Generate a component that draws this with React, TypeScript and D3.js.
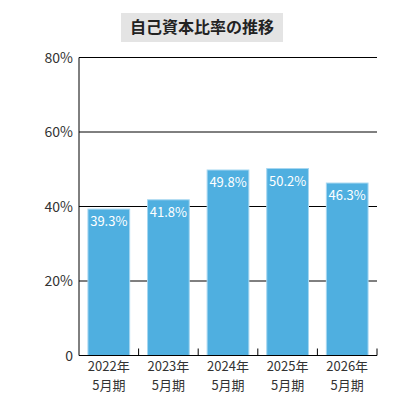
import { scaleBand, scaleLinear } from "d3";

const categories = ["2022年", "2023年", "2024年", "2025年", "2026年"];
const subLabels = ["5月期", "5月期", "5月期", "5月期", "5月期"];
const ratios = [39.3, 41.8, 49.8, 50.2, 46.3];
const yTicks = [0, 20, 40, 60, 80];

const width = 401;
const height = 400;
const left = 79;
const right = 377;
const top = 57.5;
const bottom = 355.5;
const font = "'Noto Sans CJK JP', 'Noto Sans', sans-serif";

export default function App(): React.JSX.Element {
  const x = scaleBand<string>()
    .domain(categories)
    .range([left, right])
    .paddingInner(0.3)
    .paddingOuter(0.15);
  const y = scaleLinear().domain([0, 80]).range([bottom, top]);
  const step = x.step();

  return (
    <svg
      width={width}
      height={height}
      style={{ position: "absolute", left: 0, top: 0 }}
      viewBox={`0 0 ${width} ${height}`}
    >
      <rect x={0} y={0} width={width} height={height} fill="#ffffff" />
      <rect x={121} y={13} width={162} height={29} fill="#e4e4e4" />
      <text
        x={202}
        y={33}
        textAnchor="middle"
        fontFamily={font}
        fontSize={16}
        fontWeight={700}
        fill="#222"
      >
        自己資本比率の推移
      </text>

      {yTicks.map((t) => (
        <g key={t}>
          {t > 0 ? (
            <line x1={left} x2={right} y1={y(t)} y2={y(t)} stroke="#000" strokeWidth={1} />
          ) : null}
          <text
            x={73}
            y={y(t) + 5}
            textAnchor="end"
            fontFamily={font}
            fontSize={14}
            fill="#333"
          >
            {t === 0 ? "0" : `${t}%`}
          </text>
        </g>
      ))}

      {categories.map((c, i) => {
        const bx = x(c) ?? 0;
        const by = y(ratios[i]);
        return (
          <g key={c}>
            <rect
              x={bx}
              y={by}
              width={x.bandwidth()}
              height={bottom - by}
              fill="#4fafe0"
              stroke="#a6d7f1"
              strokeWidth={1}
            />
            <text
              x={bx + x.bandwidth() / 2}
              y={by + 17}
              textAnchor="middle"
              fontFamily={font}
              fontSize={13}
              fill="#ffffff"
            >
              {`${ratios[i]}%`}
            </text>
            <text
              x={bx + x.bandwidth() / 2}
              y={371}
              textAnchor="middle"
              fontFamily={font}
              fontSize={13}
              fill="#333"
            >
              {c}
            </text>
            <text
              x={bx + x.bandwidth() / 2}
              y={390}
              textAnchor="middle"
              fontFamily={font}
              fontSize={13}
              fill="#333"
            >
              {subLabels[i]}
            </text>
          </g>
        );
      })}

      {categories.map((c, i) => (
        <line
          key={`tick-${c}`}
          x1={left + step * (i + 1)}
          x2={left + step * (i + 1)}
          y1={bottom}
          y2={bottom - 7}
          stroke="#000"
        />
      ))}
      <line x1={left} x2={left} y1={top} y2={bottom} stroke="#000" strokeWidth={1} />
      <line x1={left} x2={right} y1={bottom} y2={bottom} stroke="#000" strokeWidth={1} />
    </svg>
  );
}
